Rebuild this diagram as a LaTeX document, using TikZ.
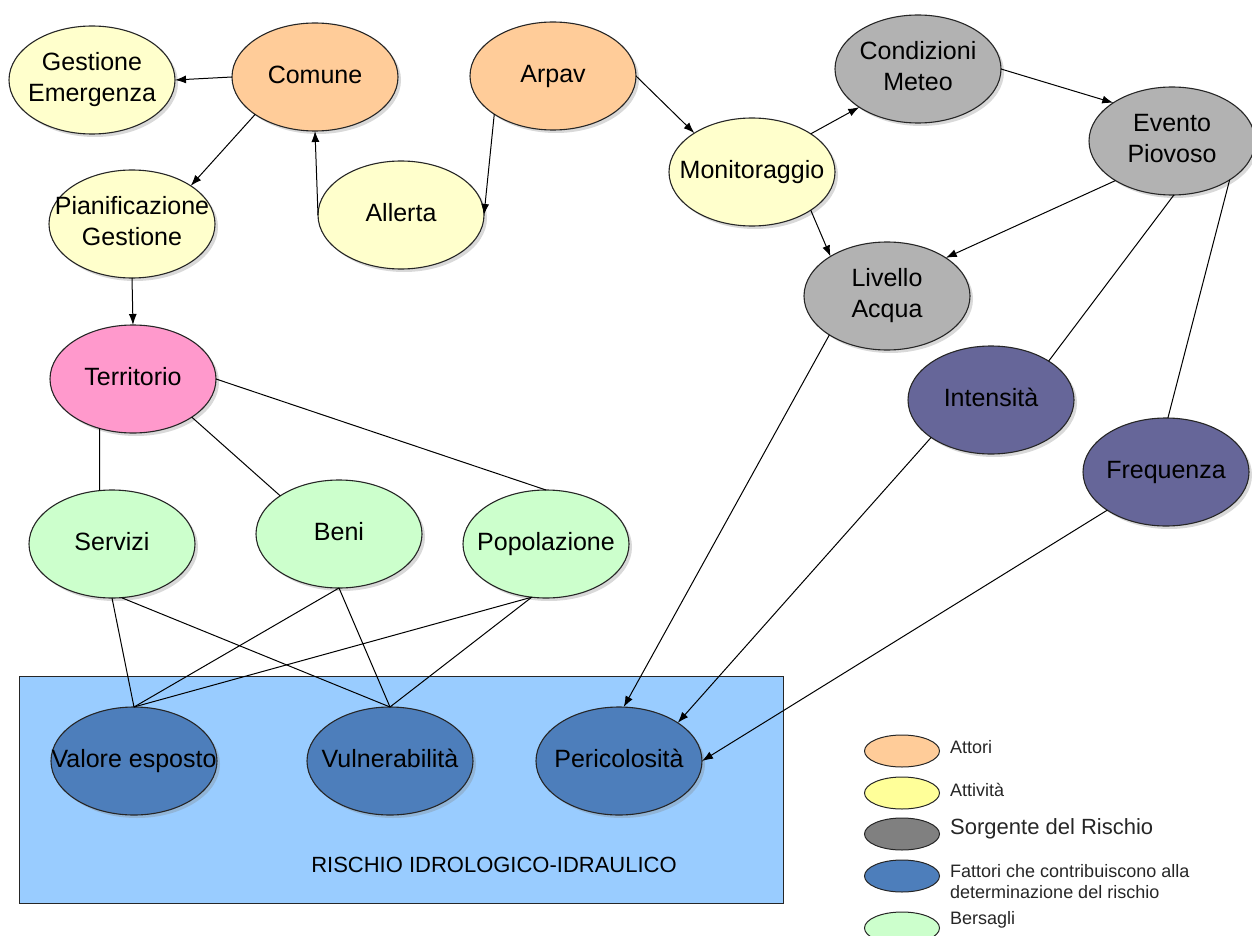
\documentclass[tikz,border=0pt]{standalone}
\usepackage{fontspec}
\setmainfont{Liberation Sans}
\usetikzlibrary{shapes.geometric,arrows.meta,shadows}

\definecolor{actorfill}{HTML}{FFCC99}
\definecolor{taskfill}{HTML}{FFFFCC}
\definecolor{taskkey}{HTML}{FFFF99}
\definecolor{sourcefill}{HTML}{B2B2B2}
\definecolor{sourcekey}{HTML}{808080}
\definecolor{measurefill}{HTML}{666699}
\definecolor{factorfill}{HTML}{4D7EBB}
\definecolor{targetfill}{HTML}{CCFFCC}
\definecolor{landfill}{HTML}{FF99CC}
\definecolor{zonefill}{HTML}{99CCFF}

% zero-width text block so every bubble keeps the same size
\newcommand\bubbletext[1]{\makebox[0pt]{\begin{tabular}{@{}c@{}}#1\end{tabular}}}

\tikzset{
  bubble/.style={ellipse, draw=black!85, line width=1.1pt, inner sep=0pt, outer sep=0pt,
    minimum width=166pt, minimum height=108pt,
    font=\fontsize{25}{31}\selectfont,
    drop shadow={shadow xshift=3pt, shadow yshift=-3pt, opacity=0.3}},
  actor/.style={bubble, fill=actorfill},
  task/.style={bubble, fill=taskfill},
  source/.style={bubble, fill=sourcefill},
  measure/.style={bubble, fill=measurefill},
  factor/.style={bubble, fill=factorfill},
  target/.style={bubble, fill=targetfill},
  land/.style={bubble, fill=landfill},
  flow/.style={line width=1pt, -{Latex[length=11pt,width=8pt]}},
  link/.style={line width=1pt},
  swatch/.style={ellipse, draw=black!85, line width=1pt, inner sep=0pt,
    minimum width=75pt, minimum height=32pt},
  keytext/.style={anchor=west, inner sep=0pt, align=left,
    font=\fontsize{18}{21}\selectfont, text=black!85},
}

\begin{document}
\begin{tikzpicture}[x=1pt, y=-1pt]
\useasboundingbox (0,0) rectangle (1252,936);
\clip (0,0) rectangle (1252,936);

% risk zone
\node[draw=black!85, line width=1.1pt, fill=zonefill, anchor=north west,
      minimum width=764pt, minimum height=227pt, inner sep=0pt] (zone) at (19,676) {};
\node[font=\fontsize{22}{26}\selectfont] (zonetitle) at (494,865) {RISCHIO IDROLOGICO-IDRAULICO};

% upper left: actors and activities
\node[task]   (gestione)  at (92,80)   {\bubbletext{Gestione\\Emergenza}};
\node[actor]  (comune)    at (315,77)  {\bubbletext{Comune}};
\node[task]   (piani)     at (132,224) {\bubbletext{Pianificazione\\Gestione}};
\node[task]   (allerta)   at (401,215) {\bubbletext{Allerta}};
\node[actor]  (arpav)     at (553,76)  {\bubbletext{Arpav}};
\node[task]   (monitor)   at (752,172) {\bubbletext{Monitoraggio}};

% sources of risk
\node[source] (meteo)     at (918,69)  {\bubbletext{Condizioni\\Meteo}};
\node[source] (evento)    at (1172,141) {\bubbletext{Evento\\Piovoso}};
\node[source] (livello)   at (887,296) {\bubbletext{Livello\\Acqua}};
\node[measure] (intens)   at (991,400) {\bubbletext{Intensità}};
\node[measure] (freq)     at (1166,472) {\bubbletext{Frequenza}};

% territory and targets
\node[land]   (terr)      at (133,379) {\bubbletext{Territorio}};
\node[target] (servizi)   at (112,544) {\bubbletext{Servizi}};
\node[target] (beni)      at (339,534) {\bubbletext{Beni}};
\node[target] (popol)     at (546,544) {\bubbletext{Popolazione}};

% risk factors
\node[factor] (valore)    at (134,761) {\bubbletext{Valore esposto}};
\node[factor] (vulner)    at (390,761) {\bubbletext{Vulnerabilità}};
\node[factor] (peric)     at (619,761) {\bubbletext{Pericolosità}};

% directed relations
\draw[flow] (comune.west) -- (gestione.east);
\draw[flow] (comune.212) -- (piani.33);
\draw[flow] (allerta.west) -- (comune.south);
\draw[flow] (arpav.213) -- (allerta.east);
\draw[flow] (arpav.east) -- (monitor.146);
\draw[flow] (monitor.33) -- (meteo.213);
\draw[flow] (meteo.east) -- (evento.147);
\draw[flow] (monitor.-33) -- (livello.145);
\draw[flow] (evento.215) -- (livello.33);
\draw[flow] (piani.south) -- (terr.north);
\draw[flow] (livello.214) -- (peric.85);
\draw[flow] (intens.212) -- (peric.33);
\draw[flow] (freq.213) -- (peric.east);

% plain relations
\draw[link] (evento.-88) -- (intens.34);
\draw[link] (evento.-34) -- (freq.88);
\draw[link] (terr.236) -- (servizi.103);
\draw[link] (terr.-33) -- (beni.147);
\draw[link] (terr.east) -- (popol.north);
\draw[link] (servizi.south) -- (valore.north);
\draw[link] (servizi.-80) -- (vulner.north);
\draw[link] (beni.south) -- (valore.north);
\draw[link] (beni.south) -- (vulner.north);
\draw[link] (popol.255) -- (valore.north);
\draw[link] (popol.255) -- (vulner.north);

% legend
\node[swatch, fill=actorfill]  (keyA) at (902,751) {};
\node[swatch, fill=taskkey]    (keyB) at (902,793) {};
\node[swatch, fill=sourcekey]  (keyC) at (902,834) {};
\node[swatch, fill=factorfill] (keyD) at (902,876) {};
\node[swatch, fill=targetfill] (keyE) at (902,928) {};
\node[keytext] (keyAt) at (950,747) {Attori};
\node[keytext] (keyBt) at (950,790) {Attività};
\node[keytext, font=\fontsize{22}{26}\selectfont] (keyCt) at (950,829) {Sorgente del Rischio};
\node[keytext] (keyDt) at (950,882) {Fattori che contribuiscono alla\\determinazione del rischio};
\node[keytext] (keyEt) at (950,920) {Bersagli};
\end{tikzpicture}
\end{document}
